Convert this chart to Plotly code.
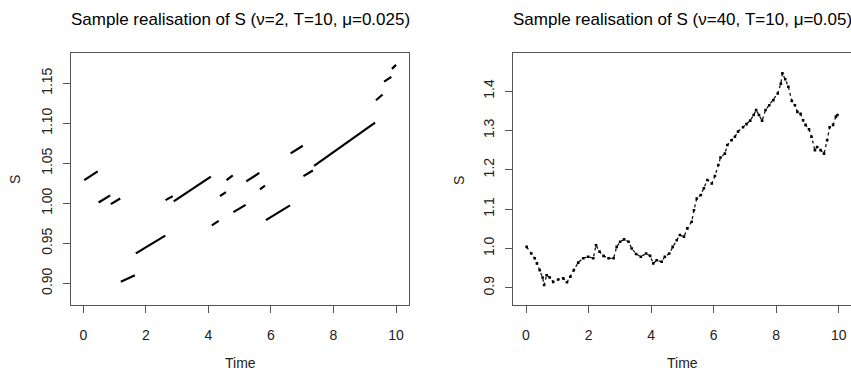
import plotly.graph_objects as go

W, H = 851, 373

# ---- Left panel: piecewise segments (nu=2) ----
seg_t_start = [0.03, 0.49, 0.88, 1.20, 1.68, 2.63, 2.89, 4.11, 4.37, 4.58,
               4.80, 5.21, 5.65, 5.84, 6.63, 7.04, 7.38, 9.36, 9.62, 9.87]
seg_t_end = [0.46, 0.86, 1.18, 1.65, 2.62, 2.86, 4.08, 4.33, 4.56, 4.78,
             5.19, 5.63, 5.81, 6.61, 7.02, 7.34, 9.33, 9.57, 9.85, 10.0]
seg_s_start = [1.029, 1.001, 0.999, 0.902, 0.9375, 1.004, 1.0025, 0.9725, 1.009, 1.029,
               0.989, 1.0275, 1.0175, 0.979, 1.0625, 1.034, 1.0467, 1.1288, 1.152, 1.168]
seg_s_end = [1.040, 1.010, 1.006, 0.910, 0.9596, 1.009, 1.0333, 0.978, 1.014, 1.035,
             0.998, 1.038, 1.022, 0.9975, 1.072, 1.041, 1.1008, 1.136, 1.158, 1.173]

# ---- Right panel: sample path (nu=40) ----
t_right = [0.02, 0.17, 0.28, 0.35, 0.44, 0.53, 0.58, 0.66, 0.76, 0.87,
           1.03, 1.19, 1.31, 1.42, 1.53, 1.67, 1.83, 1.99, 2.15, 2.24,
           2.35, 2.48, 2.64, 2.80, 2.90, 3.01, 3.14, 3.28, 3.38, 3.52,
           3.67, 3.84, 3.97, 4.07, 4.18, 4.34, 4.44, 4.58, 4.69, 4.82,
           4.92, 5.05, 5.16, 5.30, 5.37, 5.46, 5.59, 5.69, 5.80, 5.94,
           6.04, 6.15, 6.22, 6.36, 6.44, 6.57, 6.68, 6.78, 6.94, 7.05,
           7.17, 7.28, 7.36, 7.45, 7.55, 7.66, 7.78, 7.91, 8.05, 8.15,
           8.20, 8.29, 8.39, 8.50, 8.60, 8.68, 8.78, 8.86, 8.94, 9.05,
           9.13, 9.24, 9.31, 9.42, 9.53, 9.63, 9.71, 9.82, 9.91, 9.96]
s_right = [1.004, 0.987, 0.975, 0.962, 0.945, 0.926, 0.907, 0.932, 0.926, 0.915,
           0.921, 0.924, 0.914, 0.928, 0.945, 0.964, 0.975, 0.979, 0.975, 1.008,
           0.992, 0.981, 0.975, 0.975, 1.004, 1.017, 1.023, 1.017, 1.000, 0.986,
           0.979, 0.987, 0.981, 0.962, 0.970, 0.966, 0.979, 0.987, 1.004, 1.021,
           1.034, 1.030, 1.051, 1.068, 1.097, 1.127, 1.136, 1.153, 1.174, 1.165,
           1.184, 1.212, 1.231, 1.241, 1.263, 1.275, 1.284, 1.297, 1.308, 1.316,
           1.325, 1.339, 1.352, 1.339, 1.325, 1.352, 1.364, 1.377, 1.394, 1.419,
           1.445, 1.430, 1.411, 1.375, 1.364, 1.347, 1.342, 1.326, 1.314, 1.303,
           1.284, 1.250, 1.258, 1.250, 1.241, 1.275, 1.308, 1.314, 1.335, 1.339]

x_ticks = [0, 2, 4, 6, 8, 10]
y_ticks_left = [0.90, 0.95, 1.00, 1.05, 1.10, 1.15]
y_ticks_right = [0.9, 1.0, 1.1, 1.2, 1.3, 1.4]

title_left = "Sample realisation of S (ν=2, T=10, μ=0.025)"
title_right = "Sample realisation of S (ν=40, T=10, μ=0.05)"

FONT = "Liberation Sans, Arial, sans-serif"
AXC = "#555555"

# build segment polyline with gaps
lx, ly = [], []
for a, b, c, d in zip(seg_t_start, seg_t_end, seg_s_start, seg_s_end):
    lx += [a, b, None]
    ly += [c, d, None]

fig = go.Figure()
fig.add_trace(go.Scatter(x=lx, y=ly, mode="lines", line=dict(color="black", width=2.2),
                         xaxis="x", yaxis="y", showlegend=False))
fig.add_trace(go.Scatter(x=t_right, y=s_right, mode="lines+markers",
                         line=dict(color="#111", width=1.3, dash="dot"),
                         marker=dict(color="black", size=2.6, symbol="square"),
                         xaxis="x2", yaxis="y2", showlegend=False))

ybot = (H - 304.7) / H
ytop = (H - 53.3) / H

common_x = dict(tickvals=x_ticks, showline=True, linecolor=AXC, linewidth=1, mirror=True,
                ticks="outside", ticklen=7, tickcolor=AXC, showgrid=False, zeroline=False,
                tickfont=dict(family=FONT, size=14, color="#222"), ticklabelstandoff=10)
common_y = dict(showline=True, linecolor=AXC, linewidth=1, mirror=True,
                ticks="outside", ticklen=7, tickcolor=AXC, showgrid=False, zeroline=False,
                tickangle=-90, tickfont=dict(family=FONT, size=14, color="#222"),
                ticklabelstandoff=6)

fig.update_layout(
    width=W, height=H, margin=dict(l=0, r=0, t=0, b=0),
    plot_bgcolor="white", paper_bgcolor="white",
    xaxis=dict(domain=[71.3 / W, 409.3 / W], range=[-0.384, 10.425], anchor="y", **common_x),
    yaxis=dict(domain=[ybot, ytop], range=[0.8733, 1.1875], anchor="x",
               tickvals=y_ticks_left, tickformat=".2f", **common_y),
    xaxis2=dict(domain=[513.3 / W, 1.0], range=[-0.406, 10.393], anchor="y2", **common_x),
    yaxis2=dict(domain=[ybot, ytop], range=[0.857, 1.496], anchor="x2",
                tickvals=y_ticks_right, tickformat=".1f", **common_y),
)

ann = []
ann.append(dict(text=title_left, x=240 / W, y=(H - 19) / H, xref="paper", yref="paper",
                showarrow=False, xanchor="center", yanchor="middle",
                font=dict(family=FONT, size=17, color="black")))
ann.append(dict(text=title_right, x=682 / W, y=(H - 19) / H, xref="paper", yref="paper",
                showarrow=False, xanchor="center", yanchor="middle",
                font=dict(family=FONT, size=17, color="black")))
for cx in (240, 682):
    ann.append(dict(text="Time", x=cx / W, y=(H - 363) / H, xref="paper", yref="paper",
                    showarrow=False, xanchor="center", yanchor="middle",
                    font=dict(family=FONT, size=14, color="#222")))
for sx in (15, 459):
    ann.append(dict(text="S", x=sx / W, y=(H - 180) / H, xref="paper", yref="paper",
                    showarrow=False, xanchor="center", yanchor="middle", textangle=-90,
                    font=dict(family=FONT, size=14, color="#222")))
fig.update_layout(annotations=ann)

fig.write_html("out.html", config={"displayModeBar": False, "staticPlot": True})

# remove default page margin so the figure sits at the window's top-left corner
with open("out.html", "r", encoding="utf-8") as f:
    html = f.read()
html = html.replace("<head>", "<head><style>html,body{margin:0;padding:0;overflow:hidden;}</style>", 1)
with open("out.html", "w", encoding="utf-8") as f:
    f.write(html)
